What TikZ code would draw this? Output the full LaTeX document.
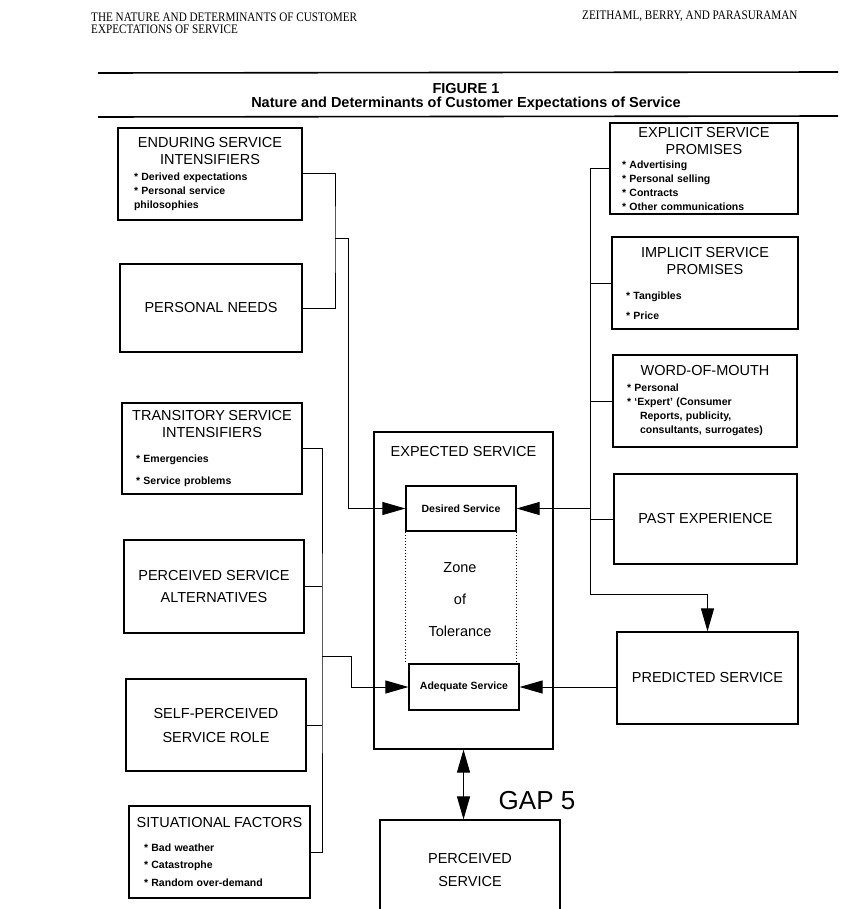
\documentclass[tikz,border=0pt]{standalone}
\usepackage{fontspec}
\setmainfont{Liberation Sans}
\newfontfamily\hdfont[FakeStretch=0.86]{Liberation Serif}
\usepackage{tikz}
\usetikzlibrary{calc,arrows.meta}
\tikzset{>={Triangle[length=23pt,width=13pt]}}
\tikzset{
  box/.style={draw, line width=1.2pt, rectangle, inner sep=0pt},
  link/.style={line width=1pt},
  head/.style={inner sep=0pt, font=\hdfont\fontsize{13}{12.5}\selectfont},
}
\newcommand{\ttl}[1]{{\centering\fontsize{14.5}{17}\selectfont #1\par}}
\newcommand{\blt}[3]{{\raggedright\leftskip=#1pt\fontsize{10.5}{#2}\bfseries\selectfont #3\par}}

\begin{document}
\begin{tikzpicture}[x=1pt,y=-1pt]
    \useasboundingbox (0,0) rectangle (854,909);
    % page head
    \node[head, anchor=base west, align=left] (headl) at (91,34) {THE NATURE AND DETERMINANTS OF CUSTOMER\\EXPECTATIONS OF SERVICE};
    \node[head, anchor=base west] (headr) at (582,20) {ZEITHAML, BERRY, AND PARASURAMAN};
    \draw[line width=1.6pt] (98,73) -- (838,72);
    \draw[line width=1.6pt] (98,117) -- (838,116);
    \node[font=\bfseries\fontsize{14.5}{16}\selectfont] (fig) at (466,89) {FIGURE 1};
    \node[font=\bfseries\fontsize{14.5}{16}\selectfont] (figcap) at (466,104) {Nature and Determinants of Customer Expectations of Service};

    % left column
    \node[box, minimum width=184, minimum height=92, text width=176] (endur) at (210,174)
      {\ttl{ENDURING SERVICE\\INTENSIFIERS}\vskip2pt\blt{12}{14}{* Derived expectations\\{}* Personal service\\philosophies}};
    \node[box, minimum width=182, minimum height=88, font=\fontsize{14.5}{17}\selectfont] (needs) at (211,308) {PERSONAL NEEDS};
    \node[box, minimum width=180, minimum height=91, text width=172] (trans) at (212,448.5)
      {\ttl{TRANSITORY SERVICE\\INTENSIFIERS}\vskip3pt\blt{10}{22}{* Emergencies\\{}* Service problems}};
    \node[box, minimum width=180, minimum height=93, align=center, font=\fontsize{14.5}{22}\selectfont] (alter) at (214,586.5) {PERCEIVED SERVICE\\ALTERNATIVES};
    \node[box, minimum width=180, minimum height=92, align=center, font=\fontsize{14.5}{24}\selectfont] (role) at (216,725) {SELF-PERCEIVED\\SERVICE ROLE};
    \node[box, minimum width=181, minimum height=92, text width=179] (situ) at (219.5,852)
      {\ttl{SITUATIONAL FACTORS}\vskip6pt\blt{14}{17.5}{* Bad weather\\{}* Catastrophe\\{}* Random over-demand}};

    % right column
    \node[box, minimum width=188, minimum height=91, text width=180] (expl) at (704,168.5)
      {\ttl{EXPLICIT SERVICE\\PROMISES}\blt{8}{14}{* Advertising\\{}* Personal selling\\{}* Contracts\\{}* Other communications}};
    \node[box, minimum width=186, minimum height=92, text width=178] (impl) at (705,283)
      {\ttl{IMPLICIT SERVICE\\PROMISES}\vskip5pt\blt{10}{20}{* Tangibles\\{}* Price}};
    \node[box, minimum width=184, minimum height=92, text width=176] (wom) at (705,401)
      {\ttl{WORD-OF-MOUTH}\vskip2pt\blt{10}{14}{* Personal\\{}* `Expert' (Consumer\\\hspace*{13pt}Reports, publicity,\\\hspace*{13pt}consultants, surrogates)}};
    \node[box, minimum width=183, minimum height=90, font=\fontsize{14.5}{17}\selectfont] (past) at (705.5,519) {PAST EXPERIENCE};
    \node[box, minimum width=181, minimum height=92, font=\fontsize{14.5}{17}\selectfont] (pred) at (707.5,678) {PREDICTED SERVICE};

    % middle
    \node[box, minimum width=179, minimum height=317,
      label={[anchor=north, yshift=-11pt, font=\fontsize{14.5}{17}\selectfont]north:EXPECTED SERVICE}] (expect) at (463.5,590.5) {};
    \node[box, minimum width=110, minimum height=45, font=\bfseries\fontsize{10.5}{12}\selectfont] (desired) at (461,508.5) {Desired Service};
    \node[box, minimum width=110, minimum height=46, font=\bfseries\fontsize{10.5}{12}\selectfont] (adequate) at (464,687) {Adequate Service};
    \draw[dotted, line width=1pt] (desired.south west) -- (desired.south west |- adequate.north);
    \draw[dotted, line width=1pt] (desired.south east) -- (desired.south east |- adequate.north);
    \node[align=center, font=\fontsize{14.5}{32}\selectfont] (zone) at (460,600) {Zone\\of\\Tolerance};
    \node[box, minimum width=180, minimum height=100, align=center, font=\fontsize{14.5}{23}\selectfont] (perc) at (470,870) {PERCEIVED\\SERVICE};
    \node[font=\fontsize{26}{30}\selectfont] (gap) at (537,801) {GAP 5};

    % connectors
    \coordinate (jA) at (335,238);
    \coordinate (jB) at (322,656);
    \coordinate (jC) at (590,594);
    \draw[link] (endur.east) -| (jA) |- (needs.east);
    \draw[link,->] (jA) -- ++(13,0) |- (desired.west);
    \draw[link] (trans.east) -| (jB) |- (situ.east);
    \draw[link] (alter.east) -- (alter.east -| jB);
    \draw[link] (role.east) -- (role.east -| jB);
    \draw[link,->] (jB) -- ++(29,0) |- (adequate.west);
    \draw[link,->] (expl.west) -| (jC) -| (pred.north);
    \draw[link] (impl.west) -- (impl.west -| jC);
    \draw[link] (wom.west) -- (wom.west -| jC);
    \draw[link] (past.west) -- (past.west -| jC);
    \draw[link,->] (desired.east -| jC) -- (desired.east);
    \draw[link,->] (adequate.east -| pred.west) -- (adequate.east);
    \draw[link,<->] (expect.south) -- (expect.south |- perc.north);
\end{tikzpicture}
\end{document}
